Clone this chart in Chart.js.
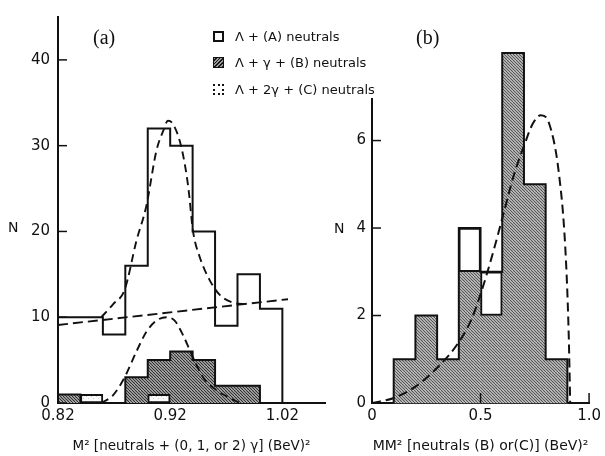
<!DOCTYPE html>
<html><head><meta charset="utf-8">
<script src="https://cdn.jsdelivr.net/npm/chart.js@4.4.1/dist/chart.umd.min.js"></script>
<style>
html,body{margin:0;padding:0;background:#fff;}
#wrap{position:relative;width:605px;height:456px;overflow:hidden;background:#fff;}
canvas{position:absolute;top:0;}
.t{position:absolute;color:#111;font-family:"DejaVu Sans",sans-serif;white-space:nowrap;line-height:1;}
.pl{font-family:"Liberation Serif",serif;font-size:20px;}
.sw{position:absolute;width:11px;height:11px;box-sizing:border-box;}
</style></head>
<body><div id="wrap">
<canvas id="ca" width="330" height="456" style="left:0"></canvas>
<canvas id="cb" width="275" height="456" style="left:330px"></canvas>
<div class="t pl" style="left:93px;top:27px">(a)</div>
<div class="t pl" style="left:416px;top:27px">(b)</div>
<div class="t" style="left:8px;top:220px;font-size:14px">N</div>
<div class="t" style="left:334px;top:221px;font-size:14px">N</div>
<div class="sw" style="left:213px;top:31px;border:2px solid #111;background:#fff"></div>
<div class="sw" style="left:213px;top:57px;border:1.5px solid #111;background:repeating-linear-gradient(-45deg,#1a1a1a 0 1.3px,#9a9a9a 1.3px 2.6px)"></div>
<div class="sw" style="left:213px;top:84px;border:2.5px dotted #111;background:#fff"></div>
<div class="t" id="lg1" style="left:235px;top:30px;font-size:13px"></div>
<div class="t" id="lg2" style="left:235px;top:56px;font-size:13px"></div>
<div class="t" id="lg3" style="left:235px;top:83px;font-size:13px"></div>
</div>
<script>
// ---------- data ----------
const legendLabels = ['Λ + (A) neutrals', 'Λ + γ + (B) neutrals', 'Λ + 2γ + (C) neutrals'];

// panel (a)
const edgesA  = [0.82, 0.84, 0.86, 0.88, 0.90, 0.92, 0.94, 0.96, 0.98, 1.00, 1.02];
const countsA = [10, 10, 8, 16, 32, 30, 20, 9, 15, 11];          // Λ + (A) neutrals
const countsBa = [1, 0, 0, 3, 5, 6, 5, 2, 2, 0];                  // Λ + γ + (B)
const countsCa = [null, 1, null, null, 1, null, null, null, null, null]; // Λ + 2γ + (C)
const bkgX = [0.82, 1.025];
const bkgY = [9.1, 12.1];
const fitAX = [0.8586, 0.869, 0.8794, 0.8899, 0.8988, 0.9077, 0.9137, 0.918, 0.9226, 0.930, 0.936, 0.9404, 0.9464, 0.9553, 0.9642, 0.976, 0.988];
const fitAY = [10.0, 11.5, 13.2, 18.9, 23.0, 29.4, 31.7, 32.9, 32.5, 29.8, 25.3, 20.0, 17.0, 14.3, 12.6, 11.7, 11.5];
const fitBX = [0.8586, 0.869, 0.8794, 0.8899, 0.8988, 0.9077, 0.9166, 0.924, 0.9315, 0.939, 0.9493, 0.9612, 0.976, 0.982];
const fitBY = [0, 0.9, 3.0, 6.0, 8.3, 9.6, 10.0, 9.6, 7.9, 5.7, 3.0, 1.5, 0.4, 0];
const xTicksA = [0.82, 0.92, 1.02];
const xTickLabelsA = ['0.82', '0.92', '1.02'];
const yTicksA = [0, 10, 20, 30, 40];
const yTickLabelsA = ['0', '10', '20', '30', '40'];

// panel (b)
const edgesB  = [0.1, 0.2, 0.3, 0.4, 0.5, 0.6, 0.7, 0.8, 0.9];
const countsBb = [1, 2, 1, 3, 2, 8, 5, 1];                        // (B)
const countsCb = [null, null, null, 1, 1, null, null, null];      // (C) on top
const fitX = [0, 0.097, 0.202, 0.307, 0.397, 0.457, 0.501, 0.561, 0.606, 0.651, 0.704, 0.741, 0.778, 0.816, 0.861, 0.891, 0.906, 0.913];
const fitY = [0, 0.11, 0.38, 0.84, 1.37, 1.9, 2.5, 3.5, 4.33, 5.17, 5.93, 6.39, 6.58, 6.39, 5.25, 3.5, 1.6, 0];
const xTicksB = [0, 0.5, 1.0];
const xTickLabelsB = ['0', '0.5', '1.0'];
const yTicksB = [0, 2, 4, 6];
const yTickLabelsB = ['0', '2', '4', '6'];

// ---------- helpers ----------
legendLabels.forEach((t, i) => document.getElementById('lg' + (i + 1)).textContent = t);
const zip = (xs, ys) => xs.map((x, i) => ({x, y: ys[i]}));
function histPts(edges, counts) {
  const p = [{x: edges[0], y: 0}];
  counts.forEach((c, i) => p.push({x: edges[i], y: c}));
  const last = edges[counts.length];
  p.push({x: last, y: counts[counts.length - 1]});
  p.push({x: last, y: 0});
  return p;
}
const centers = edges => edges.slice(0, -1).map((e, i) => (e + edges[i + 1]) / 2);

function hatch(bg, fg) {
  const c = document.createElement('canvas'); c.width = 6; c.height = 6;
  const g = c.getContext('2d');
  g.fillStyle = bg; g.fillRect(0, 0, 6, 6);
  g.strokeStyle = fg; g.lineWidth = 1.1;
  for (const k of [-6, -3, 0, 3, 6]) { g.beginPath(); g.moveTo(k, 0); g.lineTo(k + 6, 6); g.stroke(); }
  return g.createPattern(c, 'repeat');
}
function stipple() {
  const c = document.createElement('canvas'); c.width = 5; c.height = 5;
  const g = c.getContext('2d');
  g.fillStyle = '#fafafa'; g.fillRect(0, 0, 5, 5);
  g.fillStyle = '#c8c8c8'; g.fillRect(1, 1, 1, 1); g.fillRect(3, 3, 1, 1);
  return g.createPattern(c, 'repeat');
}
const ctxA = document.getElementById('ca').getContext('2d');
const ctxB = document.getElementById('cb').getContext('2d');
const hatchA = hatch('#c4c4c4', '#2a2a2a');
const hatchB = hatch('#d6d6d6', '#505050');
const dotC = stipple();

const inTicks = {
  id: 'inTicks',
  afterDatasetsDraw(chart, args, opts) {
    const ctx = chart.ctx; ctx.save(); ctx.strokeStyle = '#111'; ctx.lineWidth = 1.5;
    for (const id of ['x', 'y']) {
      const len = opts[id]; if (!len) continue;
      const s = chart.scales[id];
      s.ticks.forEach(t => {
        const p = s.getPixelForValue(t.value);
        ctx.beginPath();
        if (id === 'y') { ctx.moveTo(s.right, p); ctx.lineTo(s.right + len, p); }
        else { ctx.moveTo(p, s.top); ctx.lineTo(p, s.top - len); }
        ctx.stroke();
      });
    }
    ctx.restore();
  }
};

Chart.defaults.font.family = '"DejaVu Sans", sans-serif';
Chart.defaults.color = '#111';

const tickFont = {size: 15};
function axisX(min, max, ticks, labels, title, h, tsize) {
  return {
    type: 'linear', min, max, offset: false,
    grid: {display: false, drawTicks: false},
    border: {display: true, width: 2, color: '#111'},
    ticks: {font: tickFont, padding: 4, maxRotation: 0, autoSkip: false, callback: (v, i) => labels[i]},
    afterBuildTicks: s => { s.ticks = ticks.map(v => ({value: v})); },
    title: {display: true, text: title, font: {size: tsize}, padding: {top: 0, bottom: 1}},
    afterFit: s => { s.height = h; }
  };
}
function axisY(min, max, ticks, labels, w, pad) {
  return {
    type: 'linear', min, max,
    grid: {display: false, drawTicks: false},
    border: {display: true, width: 2, color: '#111'},
    ticks: {font: tickFont, padding: pad, autoSkip: false, callback: (v, i) => labels[i]},
    afterBuildTicks: s => { s.ticks = ticks.map(v => ({value: v})); },
    afterFit: s => { s.width = w; }
  };
}
const dashed = (data, w, dash) => ({type: 'line', data, borderColor: '#111', borderWidth: w, borderDash: dash,
  pointRadius: 0, fill: false, cubicInterpolationMode: 'monotone', order: 0});

// ---------- panel (a) ----------
new Chart(ctxA, {
  type: 'line',
  data: {datasets: [
    dashed(zip(fitAX, fitAY), 1.9, [8, 5]),
    dashed(zip(fitBX, fitBY), 1.9, [8, 5]),
    Object.assign(dashed(zip(bkgX, bkgY), 1.9, [10, 5]), {cubicInterpolationMode: 'default', tension: 0}),
    {type: 'bar', label: legendLabels[2], data: centers(edgesA).map((x, i) => ({x, y: countsCa[i]})),
      backgroundColor: dotC, borderColor: '#111', borderWidth: 2, borderSkipped: false,
      barPercentage: 1, categoryPercentage: 1, grouped: false, order: 1},
    {label: legendLabels[1], data: histPts(edgesA, countsBa), stepped: true, fill: 'origin',
      backgroundColor: hatchA, borderColor: '#111', borderWidth: 2, pointRadius: 0, order: 2},
    {label: legendLabels[0], data: histPts(edgesA, countsA), stepped: true, fill: false,
      borderColor: '#111', borderWidth: 2, pointRadius: 0, order: 3}
  ]},
  options: {
    animation: false, responsive: false, events: [],
    layout: {padding: {top: 8, right: 5, left: 0, bottom: 0}, autoPadding: false},
    plugins: {legend: {display: false}, tooltip: {enabled: false}, inTicks: {y: 9}},
    scales: {
      x: axisX(0.82, 1.058, xTicksA, xTickLabelsA, 'M² [neutrals + (0, 1, or 2) γ] (BeV)²', 53, 13.5),
      y: axisY(0, 45, yTicksA, yTickLabelsA, 58, 8)
    }
  },
  plugins: [inTicks]
});

// ---------- panel (b) ----------
const totalsB = countsBb.map((b, i) => b + (countsCb[i] || 0));
new Chart(ctxB, {
  type: 'line',
  data: {datasets: [
    dashed(zip(fitX, fitY), 2, [9, 5]),
    {type: 'bar', label: legendLabels[2],
      data: centers(edgesB).map((x, i) => ({x, y: countsCb[i] == null ? null : [countsBb[i], countsBb[i] + countsCb[i]]})),
      backgroundColor: '#fff', borderColor: '#111', borderWidth: 2, borderSkipped: false,
      barPercentage: 1, categoryPercentage: 1, grouped: false, order: 1},
    {label: 'outline', data: histPts(edgesB, totalsB), stepped: true, fill: false, clip: false,
      borderColor: '#111', borderWidth: 2, pointRadius: 0, order: 2},
    {type: 'bar', label: legendLabels[1], data: centers(edgesB).map((x, i) => ({x, y: totalsB[i]})),
      backgroundColor: hatchB, borderWidth: 0, barPercentage: 1, categoryPercentage: 1,
      grouped: false, clip: false, order: 3}
  ]},
  options: {
    animation: false, responsive: false, events: [],
    layout: {padding: {top: 99, right: 11, left: 0, bottom: 0}, autoPadding: false},
    plugins: {legend: {display: false}, tooltip: {enabled: false}, inTicks: {x: 10, y: 9}},
    scales: {
      x: axisX(0, 1.0, xTicksB, xTickLabelsB, 'MM² [neutrals (B) or(C)] (BeV)²', 53, 14),
      y: axisY(0, 6.95, yTicksB, yTickLabelsB, 42, 6)
    }
  },
  plugins: [inTicks]
});
</script>
</body></html>
